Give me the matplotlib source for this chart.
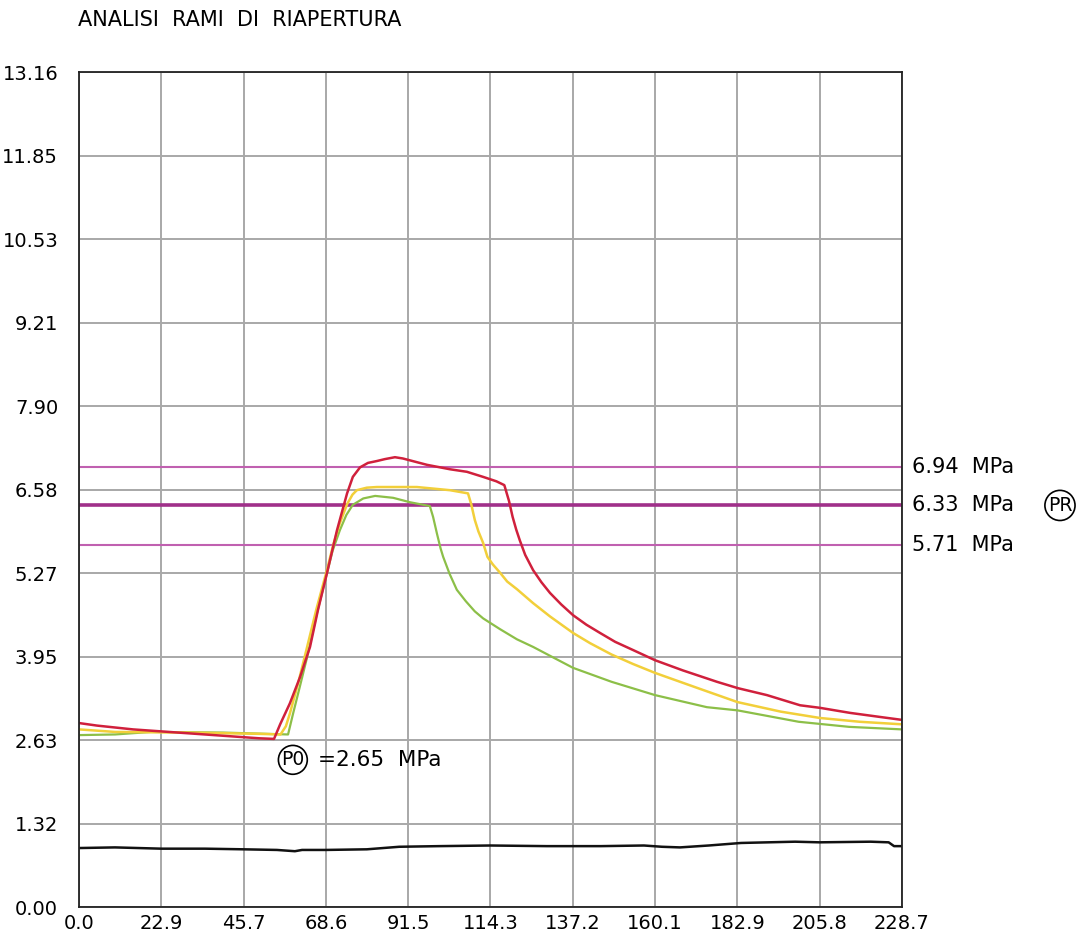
import matplotlib.pyplot as plt
import numpy as np

# time axis (s) and pressure curves (MPa)
red_t = [0, 5, 15, 25, 40, 50, 54.2, 55.9, 58.6, 61.4, 64.2, 66.4, 68.9, 71.7, 74.5, 76.1, 78.1,
         80.3, 82.8, 85, 87.8, 90, 92, 96.7, 103.1, 107.8, 112.3, 116, 118.2, 119.5, 120.5, 121.5,
         122.5, 124, 126.2, 128.5, 130.9, 134, 137.3, 141, 144.8, 149, 154, 160.1, 167.8, 177.3,
         183.1, 191.2, 200.4, 205.9, 214.3, 223.4, 228.7]
red_p = [2.90, 2.86, 2.80, 2.76, 2.70, 2.66, 2.65, 2.88, 3.21, 3.62, 4.10, 4.68, 5.26, 5.94, 6.52,
         6.78, 6.93, 7.00, 7.03, 7.06, 7.09, 7.07, 7.04, 6.97, 6.90, 6.86, 6.78, 6.71, 6.65, 6.40,
         6.15, 5.95, 5.78, 5.55, 5.31, 5.12, 4.95, 4.77, 4.60, 4.45, 4.32, 4.18, 4.05, 3.89, 3.73,
         3.55, 3.45, 3.34, 3.18, 3.14, 3.06, 2.99, 2.95]

yel_t = [0, 10, 30, 50, 56, 57.5, 58.6, 61, 63.4, 66, 68.9, 70.7, 72.5, 74.5, 76, 77.2, 80, 82.8,
         93.9, 103.1, 108.1, 109, 110, 111, 112.3, 113.5, 115, 117, 119, 121.7, 126.2, 130.9,
         137.3, 142, 148, 154, 160.1, 172, 183, 195, 205.9, 217, 228.7]
yel_p = [2.80, 2.76, 2.75, 2.73, 2.72, 2.85, 3.05, 3.55, 4.10, 4.70, 5.31, 5.72, 6.05, 6.35, 6.50,
         6.57, 6.61, 6.62, 6.62, 6.57, 6.52, 6.35, 6.10, 5.92, 5.74, 5.52, 5.40, 5.27, 5.13, 5.01,
         4.79, 4.58, 4.32, 4.16, 3.98, 3.83, 3.69, 3.45, 3.23, 3.08, 2.98, 2.92, 2.88]

grn_t = [0, 10, 20, 40, 58.1, 59.5, 61.4, 63.4, 66, 68.9, 70.5, 72.5, 74.3, 76.1, 79, 82.3, 87.3,
         92, 97.5, 98.4, 99.5, 100.5, 101.2, 103, 105, 107.5, 110, 112.3, 117, 121.7, 126.2,
         130.9, 137.3, 148, 160.1, 174.5, 183, 200, 214, 228.7]
grn_p = [2.71, 2.72, 2.76, 2.75, 2.72, 3.05, 3.48, 3.94, 4.60, 5.26, 5.62, 5.94, 6.18, 6.34, 6.44,
         6.48, 6.45, 6.38, 6.32, 6.15, 5.88, 5.65, 5.52, 5.25, 5.00, 4.82, 4.66, 4.55, 4.38, 4.22,
         4.10, 3.96, 3.77, 3.55, 3.34, 3.15, 3.10, 2.92, 2.84, 2.80]

blk_t = [0, 10, 22.9, 35, 45.7, 55, 60, 62, 68.6, 80, 89, 100, 114.3, 130, 145, 157, 162, 167,
         175, 184, 199, 205.8, 220, 225, 226.5, 228.7]
blk_p = [0.93, 0.94, 0.92, 0.92, 0.91, 0.90, 0.88, 0.90, 0.90, 0.91, 0.95, 0.96, 0.97, 0.96,
         0.96, 0.97, 0.95, 0.94, 0.97, 1.01, 1.03, 1.02, 1.03, 1.02, 0.96, 0.96]

ref_levels = [6.94, 6.33, 5.71]
p0 = 2.65
x_labels = ['0.0', '22.9', '45.7', '68.6', '91.5', '114.3', '137.2', '160.1', '182.9', '205.8', '228.7']
y_labels = ['0.00', '1.32', '2.63', '3.95', '5.27', '6.58', '7.90', '9.21', '10.53', '11.85', '13.16']
x_max = 228.7
y_max = 13.16

fig = plt.figure(figsize=(10.85, 9.35), dpi=100)
ax = fig.add_axes([0.0728, 0.0299, 0.7585, 0.893])

ax.set_xlim(0, x_max)
ax.set_ylim(0, y_max)
ax.set_xticks(np.linspace(0, x_max, 11))
ax.set_yticks(np.linspace(0, y_max, 11))
ax.set_xticklabels(x_labels)
ax.set_yticklabels(y_labels)
ax.tick_params(length=0, labelsize=14, pad=5)
ax.tick_params(axis='y', pad=15)
ax.grid(True, color='#a8a8a8', linewidth=1.4)
ax.set_axisbelow(True)
for s in ax.spines.values():
    s.set_linewidth(1.3)
    s.set_color('#222222')

# reference pressure levels
ax.axhline(ref_levels[0], color='#c060b0', linewidth=1.5)
ax.axhline(ref_levels[1], color='#a0308a', linewidth=2.6)
ax.axhline(ref_levels[2], color='#c060b0', linewidth=1.5)

ax.plot(blk_t, blk_p, color='#111111', linewidth=1.8)
ax.plot(grn_t, grn_p, color='#8cbf48', linewidth=1.6)
ax.plot(yel_t, yel_p, color='#f2cf3a', linewidth=1.8)
ax.plot(red_t, red_p, color='#d0203c', linewidth=1.8)

# labels on the right
for lvl in ref_levels:
    ax.text(1.012, lvl, f"{lvl:.2f}  MPa", transform=ax.get_yaxis_transform(),
            fontsize=15, va='center', ha='left')
ax.text(1.192, ref_levels[1], "PR", transform=ax.get_yaxis_transform(), fontsize=13.5,
        va='center', ha='center', bbox=dict(boxstyle='circle,pad=0.15', fc='white', ec='black', lw=1.2))

ax.text(66.4, 2.32, f"={p0:.2f}  MPa", fontsize=15.5, va='center', ha='left')
ax.text(56.2, 2.32, "P0", fontsize=13.5, va='center', ha='left',
        bbox=dict(boxstyle='circle,pad=0.15', fc='white', ec='black', lw=1.2))

fig.text(0.072, 0.979, "ANALISI  RAMI  DI  RIAPERTURA", fontsize=15, va='center', ha='left')

fig.savefig("out.png", dpi=100)
